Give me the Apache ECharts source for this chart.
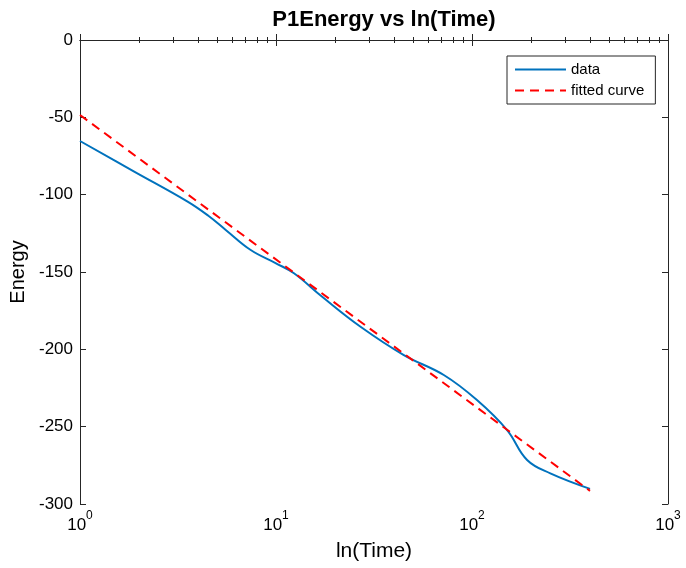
<!DOCTYPE html>
<html>
<head>
<meta charset="utf-8">
<script src="https://cdn.jsdelivr.net/npm/echarts@6/dist/echarts.min.js"></script>
<style>
  html, body { margin: 0; padding: 0; background: #fff; }
  #chart { width: 686px; height: 568px; }
</style>
</head>
<body>
<div id="chart"></div>
<script>
const timeData = [1, 1.89, 3.54, 4.5, 5.54, 7.43, 10, 12.35, 17.2, 27, 44.9, 71.8, 106, 151, 191, 251, 400];
const energyData = [-65.3, -85.1, -104.5, -113.5, -122.8, -135.8, -144.4, -150.8, -166, -185.4, -203.7, -216.6, -232.8, -252.2, -271.5, -280.2, -290.2];
const fitTime = [1, 400];
const fitEnergy = [-48.5, -291.5];
const minorTicks = [2, 3, 4, 5, 6, 7, 8, 9, 20, 30, 40, 50, 60, 70, 80, 90, 200, 300, 400, 500, 600, 700, 800, 900];

const AX = '#262626';
const FONT = '"Liberation Sans", Arial, sans-serif';

function pairs(xs, ys) {
    return xs.map((x, i) => [x, ys[i]]);
}

function logAxis(pos, extra) {
    return Object.assign({
        type: 'log',
        logBase: 10,
        min: 1,
        max: 1000,
        position: pos,
        axisLine: { show: true, lineStyle: { color: AX, width: 1 } },
        axisTick: { show: true, inside: true, length: 6, lineStyle: { color: AX } },
        axisLabel: { show: false },
        splitLine: { show: false },
    }, extra);
}

const option = {
    animation: false,
    textStyle: { fontFamily: FONT },
    title: {
        text: 'P1Energy vs ln(Time)',
        left: 379,
        textAlign: 'center',
        top: 4,
        textStyle: { fontFamily: FONT, fontSize: 22, fontWeight: 'bold', color: '#000' },
    },
    grid: { left: 79, right: 18, top: 40, bottom: 64, containLabel: false },
    legend: {
        orient: 'vertical',
        left: 507,
        top: 56,
        padding: [6, 11, 6, 7],
        itemGap: 6,
        itemWidth: 51,
        itemHeight: 14,
        borderColor: AX,
        borderWidth: 1,
        backgroundColor: '#fff',
        itemStyle: { opacity: 0 },
        textStyle: { fontFamily: FONT, fontSize: 15, color: '#000' },
        data: ['data', 'fitted curve'],
    },
    xAxis: [
        logAxis('bottom', {
            name: 'ln(Time)',
            nameLocation: 'middle',
            nameGap: 37,
            nameTextStyle: { fontFamily: FONT, fontSize: 21, color: '#000' },
            axisLabel: {
                show: true,
                margin: 6,
                formatter: function (v) {
                    return '{b|10}{s|' + Math.round(Math.log10(v)) + '}';
                },
                rich: {
                    b: { fontSize: 17, color: '#000', lineHeight: 24, verticalAlign: 'bottom' },
                    s: { fontSize: 12, color: '#000', lineHeight: 24, verticalAlign: 'top' },
                },
            },
        }),
        logAxis('bottom', {
            axisLine: { show: false },
            axisTick: { show: true, inside: true, length: 3, customValues: minorTicks, lineStyle: { color: AX } },
        }),
        logAxis('top', {}),
        logAxis('top', {
            axisLine: { show: false },
            axisTick: { show: true, inside: true, length: 3, customValues: minorTicks, lineStyle: { color: AX } },
        }),
    ],
    yAxis: [
        {
            type: 'value',
            min: -300,
            max: 0,
            interval: 50,
            position: 'left',
            name: 'Energy',
            nameLocation: 'middle',
            nameGap: 52,
            nameTextStyle: { fontFamily: FONT, fontSize: 20, color: '#000' },
            axisLine: { show: true, lineStyle: { color: AX, width: 1 } },
            axisTick: { show: true, inside: true, length: 6, lineStyle: { color: AX } },
            axisLabel: { fontSize: 17, color: '#000', margin: 7 },
            splitLine: { show: false },
        },
        {
            type: 'value',
            min: -300,
            max: 0,
            interval: 50,
            position: 'right',
            axisLine: { show: true, lineStyle: { color: AX, width: 1 } },
            axisTick: { show: true, inside: true, length: 6, lineStyle: { color: AX } },
            axisLabel: { show: false },
            splitLine: { show: false },
        },
    ],
    series: [
        {
            name: 'data',
            type: 'line',
            data: pairs(timeData, energyData),
            smooth: 0.4,
            showSymbol: false,
            symbol: 'none',
            lineStyle: { color: '#0072BD', width: 2 },
            itemStyle: { color: '#0072BD' },
            z: 3,
        },
        {
            name: 'fitted curve',
            type: 'line',
            data: pairs(fitTime, fitEnergy),
            showSymbol: false,
            symbol: 'none',
            lineStyle: { color: '#FF0000', width: 2, type: [9, 6] },
            itemStyle: { color: '#FF0000' },
            z: 4,
        },
    ],
};

const chart = echarts.init(document.getElementById('chart'), null, { renderer: 'canvas' });
chart.setOption(option);
</script>
</body>
</html>
